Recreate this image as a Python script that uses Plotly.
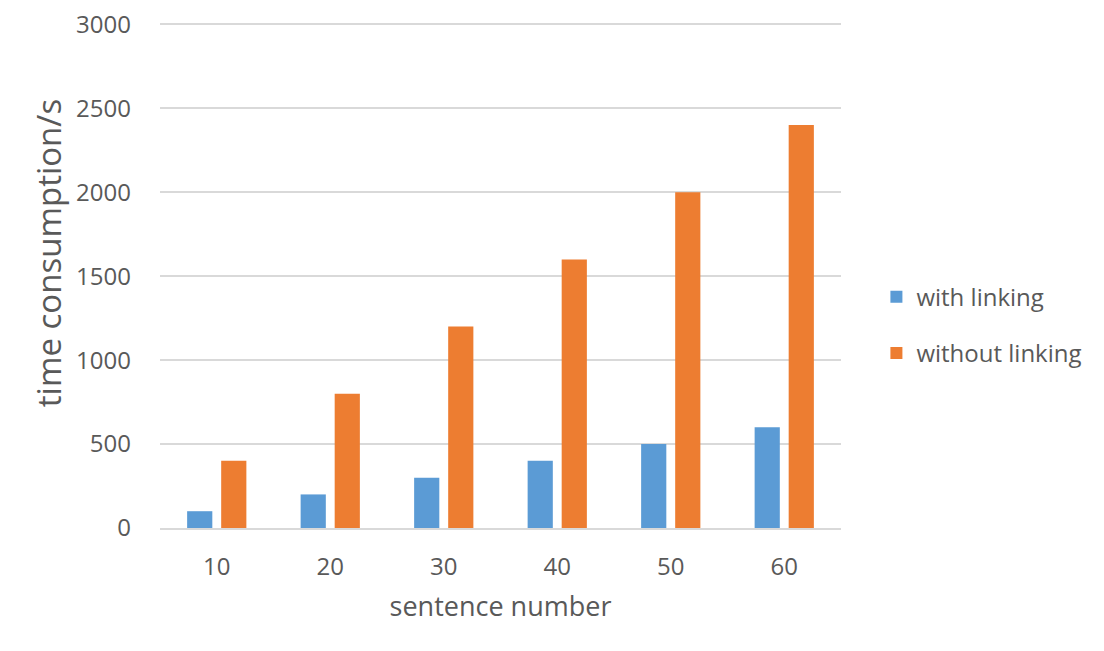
import plotly.graph_objects as go

categories = ["10", "20", "30", "40", "50", "60"]
with_linking = [100, 200, 300, 400, 500, 600]
without_linking = [400, 800, 1200, 1600, 2000, 2400]
y_ticks = [0, 500, 1000, 1500, 2000, 2500, 3000]

FONT = "'Open Sans', sans-serif"
TXT = "#595959"

fig = go.Figure()
fig.add_trace(go.Bar(x=categories, y=with_linking, name="with linking",
                     marker=dict(color="#5B9BD5", line=dict(width=0)), legendgroup="a"))
fig.add_trace(go.Bar(x=categories, y=without_linking, name="without linking",
                     marker=dict(color="#ED7D31", line=dict(width=0)), legendgroup="b"))

fig.update_layout(
    width=1104, height=651,
    margin=dict(l=160, r=263, t=21, b=123, autoexpand=False),
    paper_bgcolor="white", plot_bgcolor="white",
    barmode="group", bargap=0.40, bargroupgap=0.26,
    font=dict(family=FONT, color=TXT, size=24),
    legend=dict(x=1.052, y=0.40, xanchor="left", yanchor="middle",
                font=dict(size=24, color=TXT), tracegroupgap=22,
                traceorder="grouped", itemwidth=30),
    xaxis=dict(showgrid=False, showline=True, linecolor="#D9D9D9", linewidth=2,
               ticks="", ticklabelstandoff=16, tickfont=dict(size=24, color=TXT),
               automargin=False,
               title=dict(text="sentence number", font=dict(size=27, color=TXT), standoff=16)),
    yaxis=dict(range=[0, 3020], tickvals=y_ticks, showgrid=True, gridcolor="#D9D9D9",
               gridwidth=2, zeroline=False, showline=False, ticks="",
               ticklabelstandoff=28, tickfont=dict(size=24, color=TXT),
               automargin=False),
    annotations=[dict(text="time consumption/s", textangle=-90, showarrow=False,
                      xref="paper", yref="paper", x=-0.1645, y=0.542,
                      xanchor="center", yanchor="middle",
                      font=dict(size=33, color=TXT, family=FONT))],
)

fig.write_html("out.html")
